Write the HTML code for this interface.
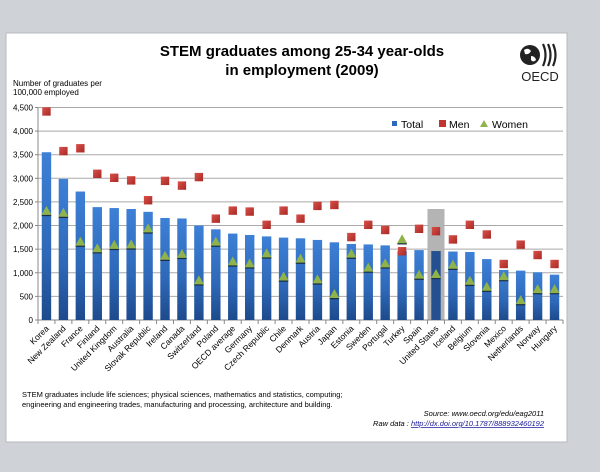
<!DOCTYPE html>
<html><head><meta charset="utf-8"><style>
body{margin:0;background:#cfd3d8;}
svg{display:block;font-family:"Liberation Sans",Arial,sans-serif;}
</style></head><body>
<svg width="600" height="472" viewBox="0 0 600 472" xmlns="http://www.w3.org/2000/svg">
<defs>
<linearGradient id="bar" x1="0" y1="0" x2="0" y2="1"><stop offset="0" stop-color="#3d80d6"/><stop offset="0.6" stop-color="#2e68b8"/><stop offset="1" stop-color="#1d4a8c"/></linearGradient>
<linearGradient id="sq" x1="0" y1="0" x2="1" y2="1"><stop offset="0" stop-color="#d9504a"/><stop offset="1" stop-color="#a82a25"/></linearGradient>
</defs>
<rect x="0" y="0" width="600" height="472" fill="#cfd3d8"/>
<rect x="6" y="33" width="561" height="409" fill="#fff" stroke="#b5b9bd"/>
<text x="302" y="56" font-size="15" font-weight="bold" text-anchor="middle">STEM graduates among 25-34 year-olds</text>
<text x="302" y="75" font-size="15" font-weight="bold" text-anchor="middle">in employment (2009)</text>
<circle cx="530" cy="55" r="10" fill="#222"/>
<path d="M524 50 q4 -3 7 1 q-2 4 -6 3z M531 56 q4 0 5 4 q-3 3 -5 0z" fill="#fff"/>
<path d="M543 44 q5 11 0 22 M548 44 q5 11 0 22 M553 44 q5 11 0 22" stroke="#222" stroke-width="2.2" fill="none"/>
<text x="540" y="81" font-size="13" text-anchor="middle" fill="#222">OECD</text>
<text x="13" y="86" font-size="8">Number of graduates per</text>
<text x="13" y="95" font-size="8">100,000 employed</text>
<g id="grid" stroke="#a9a9a9" stroke-width="1"></g>
<g id="plot"></g>
<rect x="392" y="121" width="5" height="5" fill="#2e68b8"/><text x="401" y="128" font-size="10.5">Total</text>
<rect x="439" y="120" width="7" height="7" fill="#c0362f"/><text x="449" y="128" font-size="10.5">Men</text>
<polygon points="484,120 488,127 480,127" fill="#8fb34a"/><text x="492" y="128" font-size="10.5">Women</text>
<text x="22" y="397" font-size="7.5">STEM graduates include life sciences; physical sciences, mathematics and statistics, computing;</text>
<text x="22" y="407" font-size="7.5">engineering and engineering trades, manufacturing and processing, architecture and building.</text>
<text x="544" y="416" font-size="7.5" font-style="italic" text-anchor="end">Source: www.oecd.org/edu/eag2011</text>
<text x="544" y="426" font-size="7.5" font-style="italic" text-anchor="end">Raw data : <tspan fill="#1a1a9a" text-decoration="underline">http://dx.doi.org/10.1787/888932460192</tspan></text>
</svg>
<script>
const d=[["Korea",3552,4420,2310],["New Zealand",2987,3580,2270],["France",2720,3640,1660],["Finland",2390,3100,1520],["United Kingdom",2370,3015,1590],["Australia",2350,2960,1600],["Slovak Republic",2290,2540,1940],["Ireland",2160,2950,1360],["Canada",2150,2850,1400],["Switzerland",2000,3030,840],["Poland",1920,2150,1660],["OECD average",1830,2320,1240],["Germany",1800,2300,1200],["Czech Republic",1770,2020,1410],["Chile",1745,2320,920],["Denmark",1730,2150,1300],["Austria",1695,2420,860],["Japan",1645,2440,550],["Estonia",1610,1760,1405],["Sweden",1600,2020,1110],["Portugal",1580,1910,1200],["Turkey",1460,1460,1710],["Spain",1480,1935,960],["United States",1460,1885,975],["Iceland",1450,1710,1170],["Belgium",1440,2020,830],["Slovenia",1290,1815,705],["Mexico",1060,1190,930],["Netherlands",1045,1600,420],["Norway",1010,1380,655],["Hungary",960,1190,655]];
const ns="http://www.w3.org/2000/svg",svg=document.querySelector("svg"),g=document.getElementById("plot"),gr=document.getElementById("grid");
function el(t,a,p){const e=document.createElementNS(ns,t);for(const k in a)e.setAttribute(k,a[k]);(p||g).appendChild(e);return e;}
const x0=38,x1=563,y0=320,k=0.04723,n=d.length,w=(x1-x0)/n;
const Y=v=>y0-v*k;
for(let v=0;v<=4500;v+=500){const y=Y(v);if(v>0)el("line",{x1:x0,x2:x1,y1:y,y2:y},gr);el("line",{x1:x0-3,x2:x0,y1:y,y2:y,stroke:"#888"});const t=el("text",{x:x0-5,y:y+3,"font-size":"8","text-anchor":"end"});t.textContent=v.toLocaleString("en-US");}
el("line",{x1:x0,x2:x0,y1:Y(4500),y2:y0,stroke:"#888"});
el("rect",{x:x0+23*w+w/2-8.5,y:209,width:17,height:111,fill:"#b4b4b4"});
el("line",{x1:x0,x2:x1,y1:y0,y2:y0,stroke:"#888"});
d.forEach((r,i)=>{const cx=x0+w*(i+0.5);
el("line",{x1:x0+w*i,x2:x0+w*i,y1:y0,y2:y0+4,stroke:"#888"});
el("rect",{x:cx-4.7,y:Y(r[1]),width:9.4,height:r[1]*k,fill:i==23?"#24508f":"url(#bar)"});
el("rect",{x:cx-4.2,y:Y(r[2])-4,width:8.4,height:8.4,fill:"url(#sq)"});
const ty=Y(r[3]);el("line",{x1:cx-4.7,x2:cx+4.7,y1:ty+4.5,y2:ty+4.5,stroke:"#1a2f4a","stroke-width":"1.5"});
el("polygon",{points:`${cx},${ty-5} ${cx+5},${ty+4} ${cx-5},${ty+4}`,fill:"#8fb34a"});
const t=el("text",{x:cx+3,y:y0+9,"font-size":"8.5","text-anchor":"end",transform:`rotate(-45 ${cx+3} ${y0+9})`});t.textContent=r[0];});
el("line",{x1:x1,x2:x1,y1:y0,y2:y0+4,stroke:"#888"});
</script>
</body></html>
